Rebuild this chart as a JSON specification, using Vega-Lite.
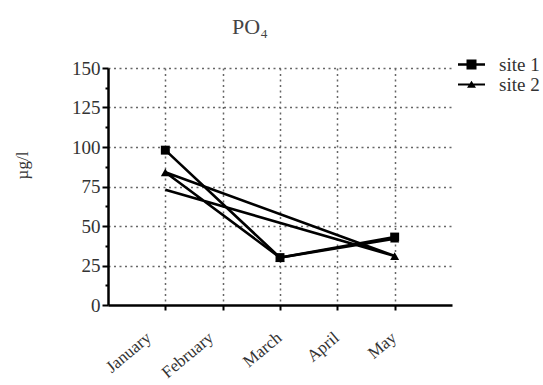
{
  "$schema": "https://vega.github.io/schema/vega-lite/v6.json",
  "width": 344,
  "height": 237,
  "autosize": "none",
  "padding": {"left": 108, "top": 68, "right": 91, "bottom": 80},
  "background": "white",
  "title": {"text": "PO₄", "font": "Liberation Serif", "fontSize": 22, "fontWeight": "normal", "color": "#444", "anchor": "middle", "dx": -30, "offset": 16},
  "config": {"view": {"stroke": null}},
  "data": {"values": [
    {"site": "site 1", "month": "January", "value": 98, "seq": 1, "marker": true},
    {"site": "site 1", "month": "March", "value": 30, "seq": 2, "marker": true},
    {"site": "site 1", "month": "May", "value": 43, "seq": 3, "marker": true},
    {"site": "site 2", "month": "January", "value": 73, "seq": 1, "marker": false},
    {"site": "site 2", "month": "May", "value": 31, "seq": 2, "marker": true},
    {"site": "site 2", "month": "January", "value": 84, "seq": 3, "marker": true},
    {"site": "site 2", "month": "March", "value": 30, "seq": 4, "marker": true},
    {"site": "site 2", "month": "May", "value": 42, "seq": 5, "marker": true}
  ]},
  "encoding": {
    "x": {
      "field": "month", "type": "ordinal",
      "scale": {"type": "point", "domain": ["January", "February", "March", "April", "May"], "padding": 1},
      "axis": {
        "title": null, "labelAngle": -40, "labelAlign": "right", "labelBaseline": "top",
        "labelFont": "Liberation Serif", "labelFontSize": 17, "labelColor": "#333",
        "labelPadding": 19,
        "labelOffset": {"condition": [{"test": "datum.value === 'January'", "value": -22}, {"test": "datum.value === 'February'", "value": -17}], "value": -6},
        "domainColor": "black", "domainWidth": 2.5, "tickColor": "black", "tickWidth": 2, "tickSize": 5,
        "grid": true, "gridColor": "#666", "gridDash": [2, 3.5], "gridWidth": 1.5
      }
    },
    "y": {
      "field": "value", "type": "quantitative",
      "scale": {"domain": [0, 150], "nice": false, "zero": true},
      "axis": {
        "title": "µg/l", "titleFont": "Liberation Serif", "titleFontSize": 17, "titleFontWeight": "normal", "titleColor": "#333",
        "titleX": -86, "titleY": 97, "titleAngle": -90, "titleAlign": "center", "titleBaseline": "middle",
        "values": [0, 12.5, 25, 37.5, 50, 62.5, 75, 87.5, 100, 112.5, 125, 137.5, 150],
        "labelExpr": "datum.value % 25 === 0 ? datum.label : ''",
        "labelFont": "Liberation Serif", "labelFontSize": 19, "labelColor": "#333", "labelPadding": 2,
        "domainColor": "black", "domainWidth": 2.5, "tickColor": "black", "tickWidth": 2,
        "tickSize": {"condition": {"test": "datum.value % 25 === 0", "value": 6}, "value": 3},
        "grid": true, "gridColor": "#666", "gridDash": [2, 3.5], "gridWidth": 1.5,
        "gridOpacity": {"condition": {"test": "datum.value % 25 === 0 && datum.value > 0", "value": 1}, "value": 0}
      }
    }
  },
  "layer": [
    {
      "mark": {"type": "line", "color": "black", "strokeWidth": 2.6},
      "encoding": {"detail": {"field": "site"}, "order": {"field": "seq"}}
    },
    {
      "transform": [{"filter": "datum.marker"}],
      "mark": {"type": "point", "filled": true, "color": "black", "opacity": 1},
      "encoding": {
        "shape": {
          "field": "site", "type": "nominal",
          "scale": {"domain": ["site 1", "site 2"], "range": ["square", "triangle-up"]},
          "legend": null
        },
        "size": {"value": 80}
      }
    },
    {
      "transform": [{"filter": "false"}],
      "mark": {"type": "point", "filled": true, "color": "black", "opacity": 1},
      "encoding": {
        "shape": {
          "field": "site", "type": "nominal",
          "scale": {"domain": ["site 1", "site 2"], "range": ["M-2.7,-0.25H2.7V0.25H-2.7Z M-1,-1H1V1H-1Z", "M-2.7,-0.22H2.7V0.22H-2.7Z M0,-0.75L0.9,0.65H-0.9Z"]},
          "legend": {
            "title": null, "orient": "none", "legendX": 354, "legendY": -13, "padding": 0,
            "symbolSize": 100, "rowPadding": -11, "labelOffset": 18,
            "symbolFillColor": "black", "symbolStrokeWidth": 0, "symbolOpacity": 1,
            "labelFont": "Liberation Serif", "labelFontSize": 19, "labelColor": "#333"
          }
        },
        "size": {"value": 100}
      }
    }
  ],
  "resolve": {"scale": {"shape": "independent"}, "legend": {"shape": "independent"}}
}
